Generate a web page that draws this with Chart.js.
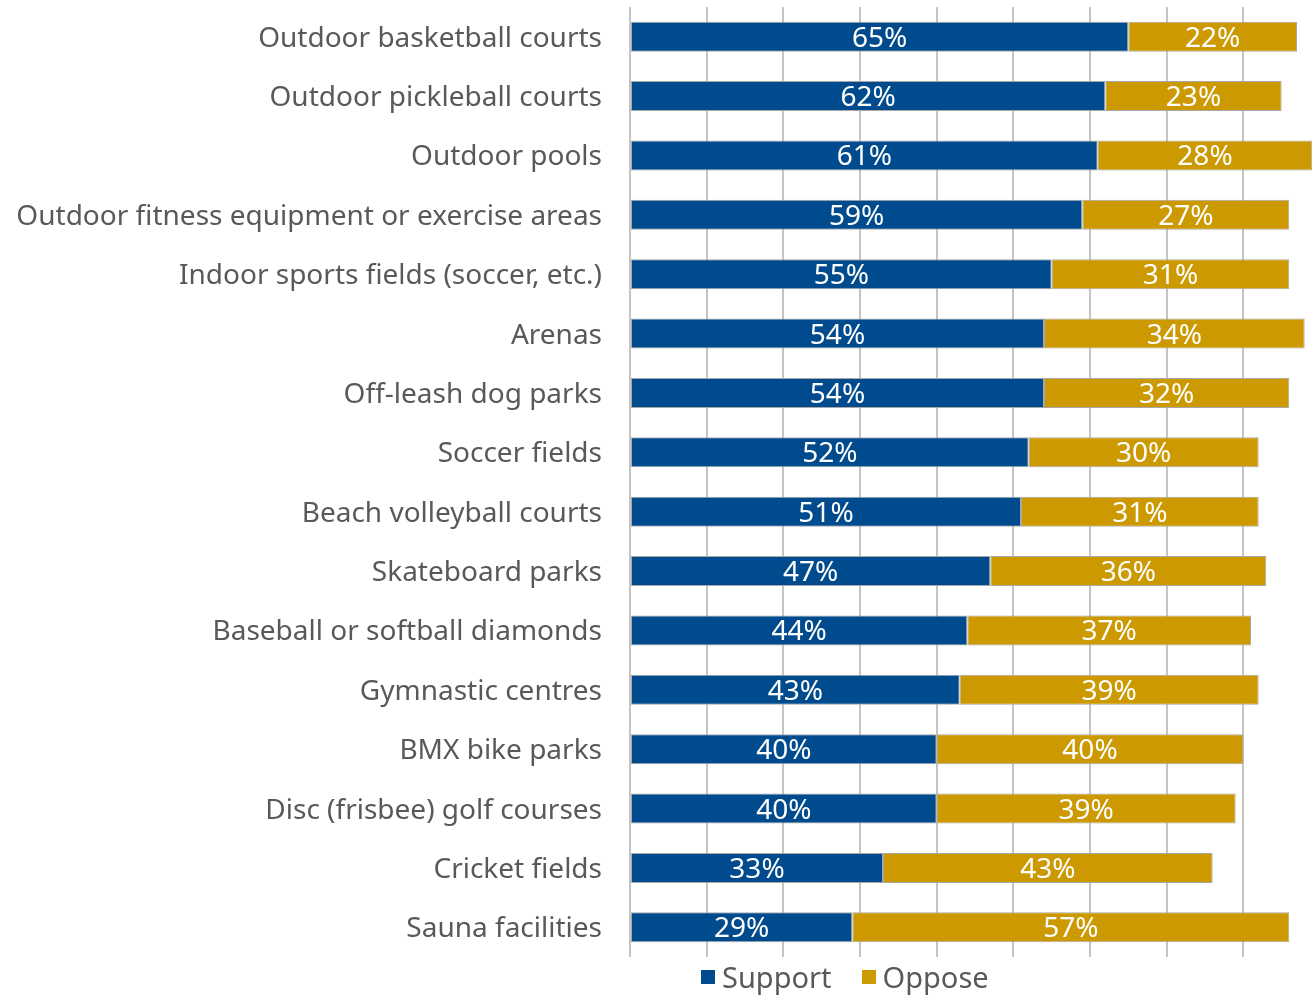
<!DOCTYPE html>
<html>
<head>
<meta charset="utf-8">
<script src="https://cdn.jsdelivr.net/npm/chart.js@4/dist/chart.umd.min.js"></script>
<style>
  html, body { margin: 0; padding: 0; background: #fff; overflow: hidden; }
  #wrap { position: relative; width: 1320px; height: 995px; }
  #legend { position: absolute; left: 701px; top: 957px; display: flex; align-items: center;
            font-family: "Noto Sans", sans-serif; font-size: 29px; color: #595959; }
  #legend .item { display: flex; align-items: center; margin-right: 30px; }
  #legend .box { width: 14px; height: 14px; margin-right: 7px; }
</style>
</head>
<body>
<div id="wrap">
  <canvas id="c" width="1320" height="995"></canvas>
  <div id="legend"></div>
</div>
<script>
// Facility types, top to bottom
const categories = [
  "Outdoor basketball courts",
  "Outdoor pickleball courts",
  "Outdoor pools",
  "Outdoor fitness equipment or exercise areas",
  "Indoor sports fields (soccer, etc.)",
  "Arenas",
  "Off-leash dog parks",
  "Soccer fields",
  "Beach volleyball courts",
  "Skateboard parks",
  "Baseball or softball diamonds",
  "Gymnastic centres",
  "BMX bike parks",
  "Disc (frisbee) golf courses",
  "Cricket fields",
  "Sauna facilities"
];
// Percent of respondents
const support = [65, 62, 61, 59, 55, 54, 54, 52, 51, 47, 44, 43, 40, 40, 33, 29];
const oppose  = [22, 23, 28, 27, 31, 34, 32, 30, 31, 36, 37, 39, 40, 39, 43, 57];
const seriesNames = ["Support", "Oppose"];
const seriesColors = ["#004b8d", "#cc9900"];

const FONT = '"Noto Sans", sans-serif';

// Writes each segment's percentage in white at its centre
const segmentLabels = {
  id: 'segmentLabels',
  afterDatasetsDraw(chart) {
    const ctx = chart.ctx;
    ctx.save();
    ctx.fillStyle = '#ffffff';
    ctx.font = '28px ' + FONT;
    ctx.textAlign = 'center';
    ctx.textBaseline = 'middle';
    chart.data.datasets.forEach((ds, i) => {
      chart.getDatasetMeta(i).data.forEach((bar, j) => {
        const p = bar.getCenterPoint();
        ctx.fillText(ds.data[j] + '%', p.x, p.y + 2);
      });
    });
    ctx.restore();
  }
};

const chart = new Chart(document.getElementById('c'), {
  type: 'bar',
  data: {
    labels: categories,
    datasets: [
      { label: seriesNames[0], data: support, backgroundColor: seriesColors[0] },
      { label: seriesNames[1], data: oppose, backgroundColor: seriesColors[1] }
    ]
  },
  options: {
    indexAxis: 'y',
    responsive: false,
    animation: false,
    layout: { padding: { top: 7, bottom: 38, left: 0, right: 0 } },
    datasets: {
      bar: {
        categoryPercentage: 1,
        barPercentage: 0.505,
        borderWidth: 1,
        borderColor: '#a8a8a8',
        borderSkipped: false
      }
    },
    scales: {
      x: {
        stacked: true,
        min: 0,
        max: 90,
        ticks: { display: false, stepSize: 10 },
        grid: { color: '#c4c4c4', lineWidth: 2, drawTicks: false },
        border: { display: false }
      },
      y: {
        stacked: true,
        afterFit(scale) {
          // fixed label column; no extra room above/below the first/last label
          scale.width = 630;
          scale.paddingTop = 0;
          scale.paddingBottom = 0;
        },
        ticks: {
          padding: 28,
          labelOffset: 2,
          color: '#595959',
          font: { family: FONT, size: 28 }
        },
        grid: { display: false, drawTicks: false },
        border: { display: false }
      }
    },
    plugins: {
      legend: { display: false },
      tooltip: { enabled: false }
    }
  },
  plugins: [segmentLabels]
});

// Legend built from the chart's own datasets
const legendEl = document.getElementById('legend');
chart.data.datasets.forEach(ds => {
  const item = document.createElement('div');
  item.className = 'item';
  const box = document.createElement('span');
  box.className = 'box';
  box.style.background = ds.backgroundColor;
  const txt = document.createElement('span');
  txt.textContent = ds.label;
  item.appendChild(box);
  item.appendChild(txt);
  legendEl.appendChild(item);
});
</script>
</body>
</html>
